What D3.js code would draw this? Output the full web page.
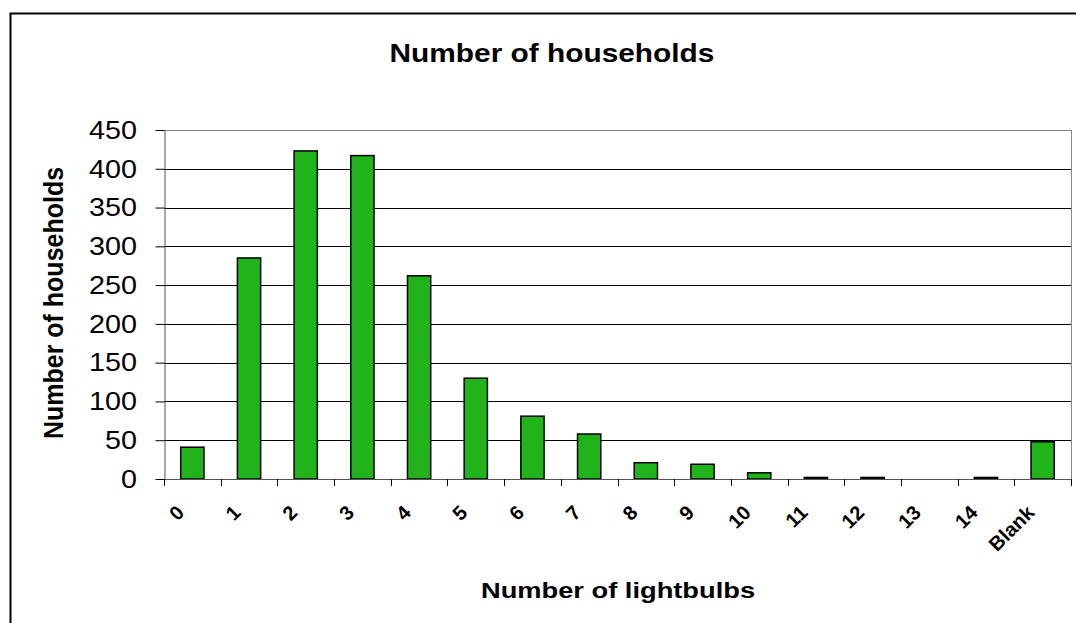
<!DOCTYPE html>
<html>
<head>
<meta charset="utf-8">
<script src="https://cdn.jsdelivr.net/npm/d3@7"></script>
<style>
  html, body { margin: 0; padding: 0; background: #fff; }
  svg { display: block; font-family: "Liberation Sans", Arial, sans-serif; }
</style>
</head>
<body>
<svg id="chart" width="1076" height="623"></svg>
<script>
// Households by number of lightbulbs
const categories = ["0", "1", "2", "3", "4", "5", "6", "7", "8", "9", "10", "11", "12", "13", "14", "Blank"];
const households = [41, 285, 423, 417, 262, 130, 81, 58, 21, 19, 8, 2, 2, 0, 2, 48];
const yTicks = [0, 50, 100, 150, 200, 250, 300, 350, 400, 450];

const svg = d3.select("#chart");
const plot = { left: 164, right: 1071, top: 130, bottom: 479 };
const STRETCH = 1.15; // text is drawn slightly wide, as in the original sheet

// text placed at (x, y), widened horizontally around its anchor
function wideText(parent, x, y, str, opts) {
  const g = parent.append("g").attr("transform", `translate(${x},${y}) scale(${opts.sx || STRETCH},1)`);
  return g.append("text")
    .attr("text-anchor", opts.anchor || "middle")
    .attr("font-size", opts.size)
    .attr("font-weight", opts.weight || "normal")
    .attr("dy", opts.dy || 0)
    .attr("fill", "#000")
    .text(str);
}

// outer chart frame (extends past the right/bottom edge)
svg.append("rect")
  .attr("x", 10.5).attr("y", 13.5)
  .attr("width", 1090).attr("height", 640)
  .attr("fill", "#fff").attr("stroke", "#000").attr("stroke-width", 2);

const x = d3.scaleBand()
  .domain(categories)
  .range([plot.left, plot.right])
  .paddingInner(0.59).paddingOuter(0.295);

const xEdge = d3.scaleLinear()
  .domain([0, categories.length])
  .range([plot.left, plot.right]);

const y = d3.scaleLinear()
  .domain([0, 450])
  .range([plot.bottom, plot.top]);

// horizontal gridlines
svg.append("g")
  .selectAll("line")
  .data(yTicks.filter(d => d > 0))
  .join("line")
  .attr("x1", plot.left).attr("x2", plot.right)
  .attr("y1", d => Math.round(y(d)) + 0.5).attr("y2", d => Math.round(y(d)) + 0.5)
  .attr("stroke", d => d === 450 ? "#888" : "#000")
  .attr("stroke-width", 1);

// right side of plot area
svg.append("line")
  .attr("x1", plot.right + 0.5).attr("x2", plot.right + 0.5)
  .attr("y1", plot.top).attr("y2", plot.bottom)
  .attr("stroke", "#888");

// bars
svg.append("g")
  .selectAll("rect")
  .data(categories.map((c, i) => ({ c, v: households[i] })))
  .join("rect")
  .attr("x", d => x(d.c))
  .attr("width", x.bandwidth())
  .attr("y", d => y(d.v))
  .attr("height", d => y(0) - y(d.v))
  .attr("fill", "#21b41a")
  .attr("stroke", "#000")
  .attr("stroke-width", 1.5);

// y axis line and ticks
const yAxis = svg.append("g")
  .attr("transform", `translate(${plot.left + 0.5},0)`)
  .call(d3.axisLeft(y).tickValues(yTicks).tickSize(9).tickFormat("").tickSizeOuter(0));
yAxis.select(".domain").attr("stroke", "#555");
yAxis.selectAll(".tick line").attr("stroke", "#000");

// y tick labels
const yLabels = svg.append("g");
yTicks.forEach(t => {
  wideText(yLabels, 137, y(t), d3.format("d")(t), { size: 25, anchor: "end", dy: "0.35em" });
});

// x axis baseline and category boundary ticks
svg.append("line")
  .attr("x1", plot.left).attr("x2", plot.right + 1)
  .attr("y1", plot.bottom + 0.5).attr("y2", plot.bottom + 0.5)
  .attr("stroke", "#555");
svg.append("g")
  .selectAll("line")
  .data(d3.range(categories.length + 1))
  .join("line")
  .attr("x1", i => Math.round(xEdge(i)) + 0.5).attr("x2", i => Math.round(xEdge(i)) + 0.5)
  .attr("y1", plot.bottom).attr("y2", plot.bottom + 7)
  .attr("stroke", "#000");

// rotated category labels
svg.append("g")
  .selectAll("text")
  .data(categories)
  .join("text")
  .attr("transform", d => `translate(${x(d) + x.bandwidth() / 2 - 17},${plot.bottom + 25}) rotate(-45)`)
  .attr("text-anchor", "end")
  .attr("dy", "0.7em")
  .attr("font-size", 20)
  .attr("font-weight", "bold")
  .attr("fill", "#000")
  .text(d => d);

// titles
wideText(svg, 552, 62, "Number of households", { size: 25.5, weight: "bold", sx: 1.17 });
wideText(svg, 618, 598, "Number of lightbulbs", { size: 22, weight: "bold", sx: 1.24 });

svg.append("g")
  .attr("transform", "translate(63,303) scale(1.12,1) rotate(-90)")
  .append("text")
  .attr("text-anchor", "middle")
  .attr("font-size", 25)
  .attr("font-weight", "bold")
  .text("Number of households");
</script>
</body>
</html>
